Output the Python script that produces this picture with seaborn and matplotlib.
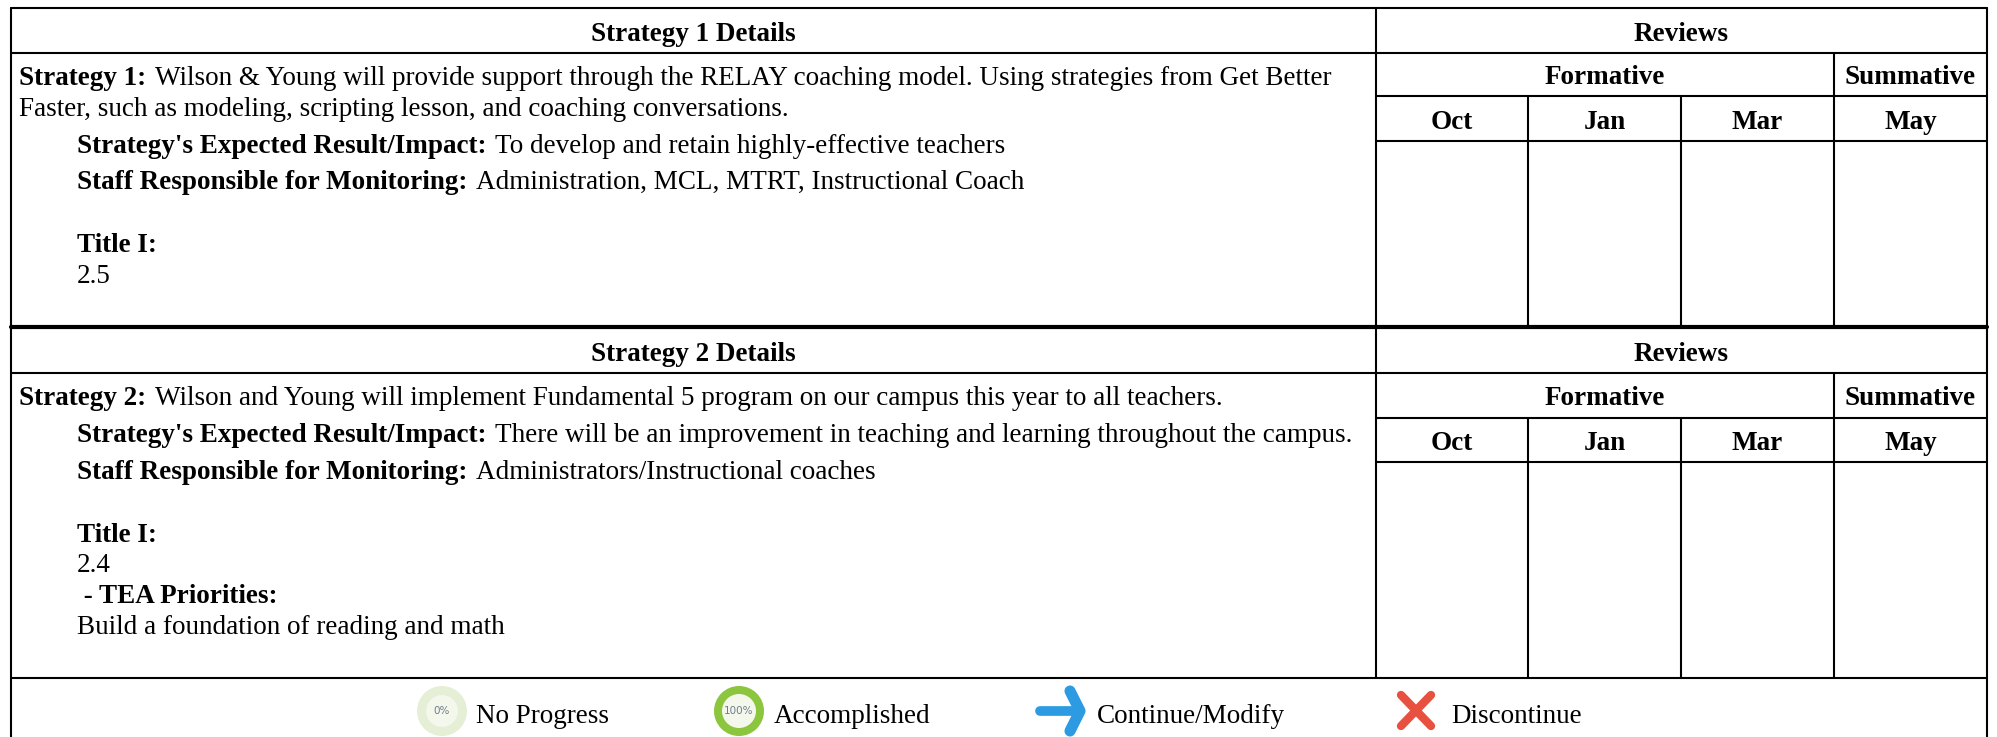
import matplotlib
matplotlib.use('Agg')
import matplotlib.pyplot as plt
import pandas as pd
import seaborn as sns
from matplotlib.patches import Circle

sns.set_theme(style='white')
plt.rcParams['font.family'] = ['Liberation Serif', 'DejaVu Sans']

# table text
details_titles = ['Strategy 1 Details', 'Strategy 2 Details']
strategy_lines = [
    [('Strategy 1:', 'Wilson & Young will provide support through the RELAY coaching model. Using strategies from Get Better', 0),
     ('', 'Faster, such as modeling, scripting lesson, and coaching conversations.', 0),
     ("Strategy's Expected Result/Impact:", 'To develop and retain highly-effective teachers', 1),
     ('Staff Responsible for Monitoring:', 'Administration, MCL, MTRT, Instructional Coach', 1),
     ('Title I:', '', 1),
     ('', '2.5', 1)],
    [('Strategy 2:', 'Wilson and Young will implement Fundamental 5 program on our campus this year to all teachers.', 0),
     ("Strategy's Expected Result/Impact:", 'There will be an improvement in teaching and learning throughout the campus.', 1),
     ('Staff Responsible for Monitoring:', 'Administrators/Instructional coaches', 1),
     ('Title I:', '', 1),
     ('', '2.4', 1),
     (' - TEA Priorities:', '', 1),
     ('', 'Build a foundation of reading and math', 1)],
]
line_rows = [[85, 116, 153, 189, 252, 283], [405, 442, 479, 542, 572, 603, 634]]
months = ['Oct', 'Jan', 'Mar', 'May']
legend_labels = ['No Progress', 'Accomplished', 'Continue/Modify', 'Discontinue']
legend_x = [476, 774, 1097, 1451]

# table rules, in image pixels
left, right = 11, 1987
split = 1376
month_edges = [1376, 1528, 1681, 1834, 1987]
rows_top = [8, 327]
rows_bottom = [327, 678]
title_rule = [53, 373]
group_rule = [96, 418]
month_rule = [141, 462]
title_base = [41, 361]
group_base = [84, 405]
month_base = [129, 450]

FS = 19.5
dpi = 100
fig = plt.figure(figsize=(19.97, 7.37), dpi=dpi)
ax = fig.add_axes([0, 0, 1, 1])


def rules_frame(segments):
    rows = []
    for i, (x0, y0, x1, y1) in enumerate(segments):
        rows.append({'rule': i, 'x': x0, 'y': y0})
        rows.append({'rule': i, 'x': x1, 'y': y1})
    return pd.DataFrame(rows)


thin = []
for k in range(2):
    thin.append((left, title_rule[k], right, title_rule[k]))
    thin.append((split, group_rule[k], right, group_rule[k]))
    thin.append((split, month_rule[k], right, month_rule[k]))
    thin.append((month_edges[3], title_rule[k], month_edges[3], rows_bottom[k]))
    thin.append((split, rows_top[k], split, rows_bottom[k]))
    for edge in month_edges[1:3]:
        thin.append((edge, group_rule[k], edge, rows_bottom[k]))
thin.append((left, 8, right, 8))
thin.append((left, 678, right, 678))
thin.append((left, 8, left, 737))
thin.append((right, 8, right, 737))

sns.lineplot(data=rules_frame(thin), x='x', y='y', units='rule', estimator=None, sort=False,
             color='black', linewidth=1.5, ax=ax)
sns.lineplot(data=rules_frame([(left, 327, right, 327)]), x='x', y='y', units='rule', estimator=None,
             sort=False, color='black', linewidth=3, ax=ax)

# limits first, the bold run widths below depend on them
ax.set_xlim(0, 1997)
ax.set_ylim(737, 0)
ax.axis('off')

for k in range(2):
    bold = dict(va='baseline', ha='center', fontsize=FS, fontweight='bold', color='black')
    ax.text((left + split) / 2, title_base[k], details_titles[k], **bold)
    ax.text((split + right) / 2, title_base[k], 'Reviews', **bold)
    ax.text((split + month_edges[3]) / 2, group_base[k], 'Formative', **bold)
    ax.text((month_edges[3] + right) / 2, group_base[k], 'Summative', **bold)
    for m, name in enumerate(months):
        ax.text((month_edges[m] + month_edges[m + 1]) / 2, month_base[k], name, **bold)

    for (head, plain, indent), y in zip(strategy_lines[k], line_rows[k]):
        x = 77 if indent else 19
        if head:
            t = ax.text(x, y, head, ha='left', va='baseline', fontsize=FS, fontweight='bold', color='black')
            fig.canvas.draw()
            x = t.get_window_extent().x1 + 9
        if plain:
            ax.text(x, y, plain, ha='left', va='baseline', fontsize=FS, color='black')

# legend icons
ax.add_patch(Circle((442, 711), 25, fc='#e4efd6', ec='none'))
ax.add_patch(Circle((442, 711), 16, fc='#f3f7ec', ec='none'))
ax.text(442, 711, '0%', ha='center', va='center', fontsize=7.5, color='#6f7d8a', family=['DejaVu Sans'])
ax.add_patch(Circle((739, 711), 25, fc='#8cc63f', ec='none'))
ax.add_patch(Circle((739, 711), 17, fc='#f3f7ec', ec='none'))
ax.text(739, 711, '100%', ha='center', va='center', fontsize=7.5, color='#6f7d8a', family=['DejaVu Sans'])
ax.plot([1040, 1076], [711, 711], color='#2c9be2', lw=7, solid_capstyle='round')
ax.plot([1070, 1080, 1070], [691, 711, 731], color='#2c9be2', lw=8, solid_capstyle='round', solid_joinstyle='round')
ax.plot([1401, 1431], [695, 726], color='#e8503f', lw=6, solid_capstyle='round')
ax.plot([1431, 1401], [695, 726], color='#e8503f', lw=6, solid_capstyle='round')
for label, x in zip(legend_labels, legend_x):
    ax.text(x, 723, label, ha='left', va='baseline', fontsize=FS, color='black')

fig.savefig('out.png', dpi=dpi, facecolor='white')
